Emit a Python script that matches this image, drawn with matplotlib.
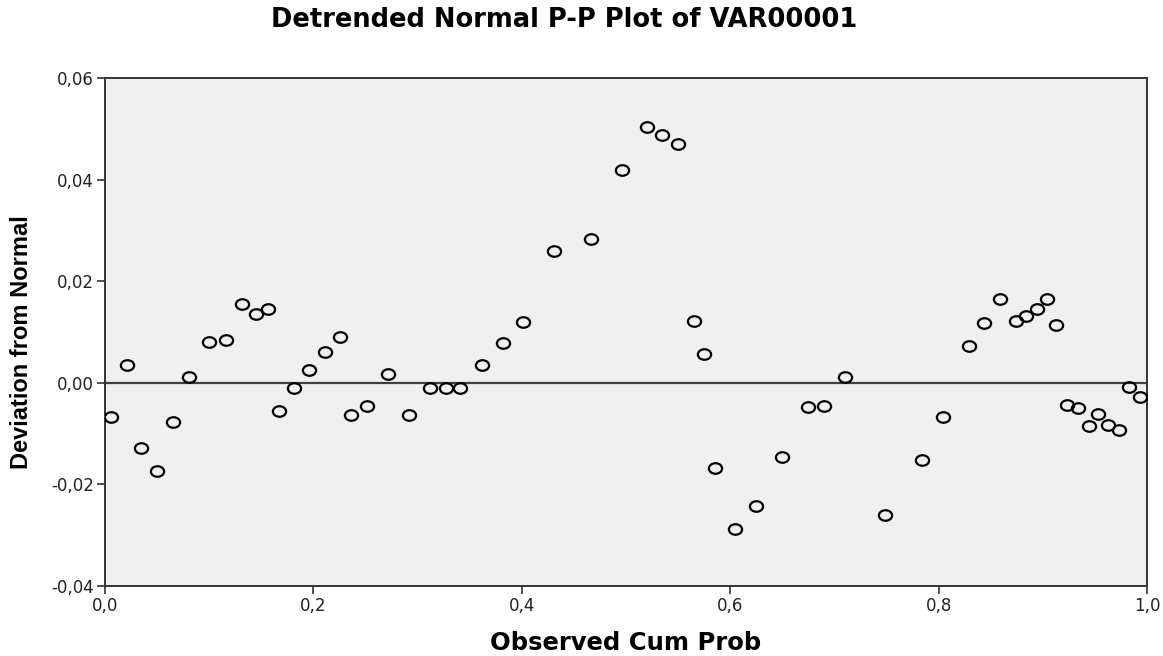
import matplotlib
matplotlib.use("Agg")
import matplotlib.pyplot as plt
from matplotlib.ticker import FuncFormatter
from matplotlib.path import Path
from matplotlib.transforms import Affine2D

# observed cumulative probability and deviation from normal
obs_cum_prob = [0.006, 0.021, 0.035, 0.050, 0.065, 0.081, 0.100, 0.116, 0.131, 0.145,
                0.156, 0.167, 0.181, 0.196, 0.211, 0.226, 0.236, 0.251, 0.272, 0.292,
                0.312, 0.327, 0.341, 0.362, 0.382, 0.401, 0.431, 0.466, 0.496, 0.520,
                0.535, 0.550, 0.565, 0.575, 0.585, 0.605, 0.625, 0.650, 0.675, 0.690,
                0.710, 0.749, 0.784, 0.804, 0.829, 0.844, 0.859, 0.874, 0.884, 0.894,
                0.904, 0.913, 0.923, 0.934, 0.944, 0.953, 0.963, 0.973, 0.983, 0.993]
deviation = [-0.0068, 0.0035, -0.0129, -0.0173, -0.0078, 0.0011, 0.0081, 0.0085, 0.0155, 0.0136,
             0.0145, -0.0055, -0.0011, 0.0026, 0.0060, 0.0090, -0.0064, -0.0046, 0.0018, -0.0064,
             -0.0010, -0.0010, -0.0010, 0.0035, 0.0078, 0.0120, 0.0259, 0.0283, 0.0418, 0.0503,
             0.0487, 0.0470, 0.0122, 0.0057, -0.0168, -0.0287, -0.0243, -0.0146, -0.0047, -0.0045,
             0.0012, -0.0260, -0.0152, -0.0067, 0.0072, 0.0117, 0.0164, 0.0121, 0.0132, 0.0146,
             0.0165, 0.0114, -0.0043, -0.0049, -0.0085, -0.0062, -0.0084, -0.0092, -0.0008, -0.0028]

x_ticks = [0.0, 0.2, 0.4, 0.6, 0.8, 1.0]
y_ticks = [-0.04, -0.02, 0.00, 0.02, 0.04, 0.06]

plt.rcParams['font.family'] = ['DejaVu Sans']

fig = plt.figure(figsize=(11.63, 6.56), dpi=100)
ax = fig.add_axes([105/1163, 1 - 586/656, (1147-105)/1163, (586-78)/656])
ax.set_facecolor('#f0f0f0')

# SPSS circles come out a bit wider than tall
ellipse = Path.unit_circle().transformed(Affine2D().scale(1.0, 0.8))

ax.axhline(0, color='#404040', lw=1.6, zorder=1)
ax.plot(obs_cum_prob, deviation, linestyle='none', marker=ellipse, mfc='none', mec='black',
        ms=9.5, mew=1.6, zorder=3)

ax.set_xlim(0, 1)
ax.set_ylim(-0.04, 0.06)
ax.set_xticks(x_ticks)
ax.set_yticks(y_ticks)
ax.xaxis.set_major_formatter(FuncFormatter(lambda v, p: f"{v:.1f}".replace('.', ',')))
ax.yaxis.set_major_formatter(FuncFormatter(lambda v, p: f"{v:.2f}".replace('.', ',').replace('-0,00', '0,00')))
ax.tick_params(direction='out', length=6, width=1.2, color='#333333', labelsize=12,
               labelcolor='#222222', pad=2)

for s in ax.spines.values():
    s.set_color('#333333')
    s.set_linewidth(1.4)

fig.text(626/1163, 1 - 650/656, 'Observed Cum Prob', ha='center', va='baseline',
         fontsize=17.5, fontweight='bold')
fig.text(22/1163, 1 - 342/656, 'Deviation from Normal', ha='center', va='center', rotation=90,
         fontsize=17, fontweight='bold', family=['Liberation Sans', 'DejaVu Sans'])
fig.text(564/1163, 1 - 27/656, 'Detrended Normal P-P Plot of VAR00001', ha='center', va='baseline',
         fontsize=18.5, fontweight='bold')

fig.savefig('out.png', dpi=100, facecolor='white')
